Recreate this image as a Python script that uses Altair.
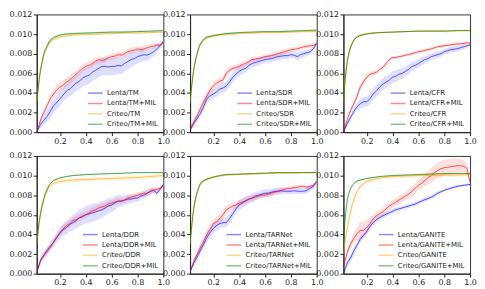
import altair as alt
import pandas as pd

# x sampling grids
X_LENTA = [0.02, 0.05, 0.075, 0.1, 0.125, 0.15, 0.175, 0.2, 0.225, 0.25, 0.275, 0.3, 0.325, 0.35,
           0.375, 0.4, 0.425, 0.45, 0.475, 0.5, 0.525, 0.55, 0.575, 0.6, 0.625, 0.65, 0.675, 0.7,
           0.725, 0.75, 0.775, 0.8, 0.825, 0.85, 0.875, 0.9, 0.925, 0.95, 0.975, 1.0]
X_CRITEO = [0.02, 0.03, 0.04, 0.05, 0.06, 0.07, 0.08, 0.09, 0.1, 0.12, 0.15, 0.2, 0.25, 0.3,
            0.4, 0.5, 0.6, 0.7, 0.8, 0.9, 1.0]

# values in units of 1e-3
# ---------------- TM ----------------
TM_LENTA = [0.0, 0.8, 1.2, 1.6, 2.1, 2.7, 3.0, 3.4, 3.8, 4.2, 4.4, 4.7, 5.0, 5.2, 5.5, 5.7, 5.8, 6.1, 6.3, 6.5,
            6.7, 6.7, 6.65, 6.7, 6.7, 6.8, 6.75, 7.0, 7.2, 7.4, 7.5, 7.7, 7.8, 7.9, 7.85, 8.0, 8.2, 8.5, 8.8, 9.2]
TM_LENTA_BAND = [0.1, 0.4, 0.5, 0.6, 0.7, 0.7, 0.7, 0.7, 0.7, 0.75, 0.8, 0.8, 0.8, 0.85, 0.85, 0.9, 0.9, 0.9, 0.9, 0.9,
                 0.9, 0.9, 0.9, 0.9, 0.9, 0.85, 0.85, 0.8, 0.8, 0.75, 0.7, 0.7, 0.65, 0.6, 0.6, 0.5, 0.45, 0.4, 0.3, 0.2]
TM_LENTA_MIL = [0.0, 1.25, 2.0, 2.7, 3.4, 3.9, 4.3, 4.6, 4.8, 5.1, 5.3, 5.6, 5.9, 6.2, 6.5, 6.7, 6.8, 7.0, 7.25, 7.4,
                7.3, 7.4, 7.6, 7.7, 7.75, 7.9, 7.85, 8.0, 8.2, 8.3, 8.35, 8.5, 8.4, 8.5, 8.6, 8.7, 8.75, 8.9, 8.85, 9.2]
TM_LENTA_MIL_BAND = [0.1, 0.2, 0.3, 0.35, 0.4, 0.4, 0.45, 0.45, 0.5, 0.5, 0.45, 0.45, 0.4, 0.4, 0.4, 0.4, 0.35, 0.35, 0.35, 0.35,
                     0.3, 0.3, 0.3, 0.3, 0.3, 0.3, 0.3, 0.3, 0.3, 0.3, 0.3, 0.3, 0.3, 0.3, 0.25, 0.25, 0.25, 0.2, 0.2, 0.15]
TM_CRITEO = [3.0, 4.2, 5.3, 6.2, 6.9, 7.5, 8.0, 8.3, 8.6, 9.1, 9.45, 9.7, 9.8, 9.9, 9.95, 10.0, 10.05, 10.1, 10.1, 10.15, 10.2]
TM_CRITEO_BAND = [0.1, 0.2, 0.25, 0.25, 0.25, 0.2, 0.2, 0.2, 0.2, 0.15, 0.15, 0.12, 0.1, 0.1, 0.08, 0.08, 0.08, 0.08, 0.08, 0.08, 0.08]
TM_CRITEO_MIL = [3.0, 4.3, 5.5, 6.4, 7.1, 7.7, 8.2, 8.5, 8.8, 9.3, 9.65, 9.9, 10.0, 10.05, 10.1, 10.15, 10.2, 10.2, 10.25, 10.3, 10.35]
TM_CRITEO_MIL_BAND = [0.1, 0.2, 0.25, 0.25, 0.25, 0.2, 0.2, 0.2, 0.2, 0.18, 0.15, 0.15, 0.12, 0.1, 0.1, 0.1, 0.1, 0.1, 0.1, 0.1, 0.1]

# ---------------- SDR ----------------
SDR_LENTA = [0.2, 0.9, 1.4, 1.9, 2.6, 3.4, 3.7, 3.9, 4.1, 4.4, 4.5, 4.7, 5.1, 5.6, 5.9, 6.2, 6.4, 6.5, 6.8, 7.0,
             7.1, 7.2, 7.3, 7.4, 7.45, 7.5, 7.6, 7.7, 7.75, 7.8, 7.8, 7.9, 7.85, 7.7, 7.9, 8.0, 8.1, 8.2, 8.5, 9.1]
SDR_LENTA_BAND = [0.1, 0.3, 0.4, 0.4, 0.45, 0.45, 0.5, 0.5, 0.5, 0.5, 0.5, 0.5, 0.5, 0.5, 0.45, 0.45, 0.45, 0.4, 0.4, 0.4,
                  0.4, 0.4, 0.35, 0.35, 0.35, 0.35, 0.35, 0.35, 0.35, 0.35, 0.35, 0.35, 0.35, 0.4, 0.4, 0.35, 0.3, 0.3, 0.25, 0.2]
SDR_LENTA_MIL = [0.3, 1.1, 1.7, 2.4, 3.1, 3.7, 4.3, 4.7, 5.0, 5.2, 5.3, 6.0, 6.3, 6.5, 6.6, 6.7, 6.9, 7.0, 7.2, 7.4,
                 7.45, 7.5, 7.6, 7.7, 7.75, 7.8, 7.9, 8.0, 8.1, 8.2, 8.3, 8.4, 8.45, 8.5, 8.6, 8.7, 8.75, 8.8, 8.85, 9.0]
SDR_LENTA_MIL_BAND = [0.2, 0.3, 0.3, 0.35, 0.4, 0.4, 0.4, 0.4, 0.4, 0.35, 0.35, 0.35, 0.3, 0.3, 0.3, 0.3, 0.3, 0.25, 0.25, 0.25,
                      0.25, 0.25, 0.25, 0.25, 0.25, 0.25, 0.25, 0.25, 0.25, 0.25, 0.25, 0.25, 0.2, 0.2, 0.2, 0.2, 0.2, 0.2, 0.2, 0.15]
SDR_CRITEO = [3.0, 4.3, 5.5, 6.4, 7.1, 7.7, 8.2, 8.6, 8.9, 9.3, 9.6, 9.8, 9.9, 9.95, 10.05, 10.1, 10.15, 10.15, 10.2, 10.25, 10.25]
SDR_CRITEO_BAND = [0.1, 0.2, 0.25, 0.25, 0.25, 0.2, 0.2, 0.2, 0.2, 0.15, 0.15, 0.12, 0.1, 0.1, 0.08, 0.08, 0.08, 0.08, 0.08, 0.08, 0.08]
SDR_CRITEO_MIL = [3.0, 4.4, 5.6, 6.5, 7.2, 7.8, 8.3, 8.7, 9.0, 9.4, 9.7, 9.85, 9.95, 10.05, 10.15, 10.2, 10.25, 10.25, 10.3, 10.35, 10.4]
SDR_CRITEO_MIL_BAND = [0.1, 0.2, 0.25, 0.25, 0.25, 0.2, 0.2, 0.2, 0.2, 0.15, 0.12, 0.1, 0.1, 0.1, 0.08, 0.08, 0.08, 0.08, 0.08, 0.08, 0.08]

# ---------------- CFR ----------------
CFR_LENTA = [0.0, 0.9, 1.5, 2.1, 2.6, 2.9, 3.1, 3.1, 3.4, 3.9, 4.2, 4.6, 4.9, 5.1, 5.3, 5.6, 5.7, 5.9, 6.0, 6.2,
             6.4, 6.7, 6.8, 7.0, 7.2, 7.4, 7.5, 7.7, 7.8, 7.9, 8.0, 8.2, 8.3, 8.4, 8.45, 8.5, 8.6, 8.7, 8.8, 8.9]
CFR_LENTA_BAND = [0.1, 0.3, 0.3, 0.35, 0.4, 0.5, 0.5, 0.5, 0.55, 0.6, 0.6, 0.6, 0.6, 0.6, 0.6, 0.6, 0.6, 0.55, 0.55, 0.5,
                  0.5, 0.5, 0.45, 0.45, 0.4, 0.4, 0.4, 0.35, 0.35, 0.35, 0.3, 0.3, 0.3, 0.3, 0.3, 0.25, 0.25, 0.25, 0.2, 0.2]
CFR_LENTA_MIL = [0.0, 1.3, 2.2, 2.9, 3.6, 4.6, 5.1, 5.6, 5.9, 6.0, 6.1, 6.4, 6.6, 7.0, 7.4, 7.6, 7.6, 7.7, 7.75, 7.85,
                 7.9, 8.0, 8.1, 8.2, 8.25, 8.35, 8.4, 8.5, 8.6, 8.7, 8.75, 8.8, 8.85, 8.9, 8.95, 9.0, 9.0, 9.05, 9.1, 9.1]
CFR_LENTA_MIL_BAND = [0.1, 0.2, 0.25, 0.3, 0.3, 0.3, 0.3, 0.25, 0.25, 0.2, 0.2, 0.2, 0.2, 0.2, 0.2, 0.15, 0.15, 0.15, 0.15, 0.15,
                      0.15, 0.15, 0.15, 0.15, 0.15, 0.15, 0.15, 0.15, 0.15, 0.15, 0.15, 0.15, 0.15, 0.15, 0.15, 0.15, 0.15, 0.15, 0.1, 0.1]
CFR_CRITEO = [3.0, 4.9, 6.3, 7.3, 8.0, 8.5, 8.85, 9.15, 9.4, 9.7, 9.9, 10.05, 10.1, 10.15, 10.2, 10.25, 10.3, 10.3, 10.3, 10.35, 10.35]
CFR_CRITEO_BAND = [0.1, 0.2, 0.25, 0.25, 0.25, 0.2, 0.2, 0.2, 0.15, 0.12, 0.1, 0.1, 0.08, 0.08, 0.06, 0.06, 0.06, 0.06, 0.06, 0.06, 0.06]
CFR_CRITEO_MIL = [3.0, 4.8, 6.2, 7.2, 7.9, 8.4, 8.8, 9.1, 9.35, 9.65, 9.85, 10.0, 10.1, 10.15, 10.2, 10.25, 10.3, 10.3, 10.3, 10.35, 10.35]
CFR_CRITEO_MIL_BAND = [0.1, 0.25, 0.3, 0.3, 0.3, 0.3, 0.25, 0.25, 0.2, 0.15, 0.12, 0.1, 0.08, 0.08, 0.06, 0.06, 0.06, 0.06, 0.06, 0.06, 0.06]

# ---------------- DDR ----------------
DDR_LENTA = [0.0, 1.4, 1.9, 2.4, 2.8, 3.2, 3.7, 4.1, 4.5, 4.7, 5.0, 5.2, 5.4, 5.7, 5.8, 6.0, 6.1, 6.2, 6.3, 6.4,
             6.5, 6.7, 6.9, 7.0, 7.2, 7.4, 7.4, 7.5, 7.6, 7.6, 7.7, 7.7, 7.9, 8.0, 8.2, 8.4, 8.5, 8.2, 8.6, 9.1]
DDR_LENTA_BAND = [0.1, 0.3, 0.3, 0.35, 0.4, 0.5, 0.5, 0.6, 0.6, 0.7, 0.7, 0.8, 0.8, 0.85, 0.85, 0.9, 0.9, 0.9, 0.9, 0.85,
                  0.85, 0.8, 0.8, 0.7, 0.7, 0.6, 0.6, 0.5, 0.5, 0.45, 0.4, 0.4, 0.35, 0.35, 0.3, 0.3, 0.3, 0.3, 0.25, 0.2]
DDR_LENTA_MIL = [0.2, 1.3, 1.8, 2.2, 2.7, 3.2, 3.7, 4.2, 4.6, 4.9, 5.1, 5.4, 5.5, 5.7, 5.9, 6.0, 6.2, 6.4, 6.5, 6.7,
                 6.8, 6.9, 7.1, 7.2, 7.3, 7.4, 7.4, 7.5, 7.7, 7.8, 7.9, 8.0, 8.1, 8.2, 8.2, 8.4, 8.5, 8.6, 8.7, 8.9]
DDR_LENTA_MIL_BAND = [0.1, 0.25, 0.3, 0.3, 0.3, 0.3, 0.3, 0.3, 0.35, 0.35, 0.35, 0.35, 0.35, 0.35, 0.35, 0.35, 0.35, 0.35, 0.35, 0.35,
                      0.35, 0.35, 0.3, 0.3, 0.3, 0.3, 0.3, 0.3, 0.3, 0.3, 0.3, 0.3, 0.3, 0.3, 0.3, 0.3, 0.25, 0.25, 0.2, 0.2]
DDR_CRITEO = [3.0, 4.2, 5.2, 6.0, 6.7, 7.2, 7.7, 8.1, 8.4, 8.9, 9.2, 9.4, 9.5, 9.55, 9.6, 9.65, 9.7, 9.75, 9.8, 9.9, 10.0]
DDR_CRITEO_BAND = [0.2, 0.3, 0.3, 0.3, 0.3, 0.3, 0.25, 0.25, 0.25, 0.2, 0.2, 0.2, 0.2, 0.2, 0.2, 0.2, 0.2, 0.2, 0.2, 0.2, 0.2]
DDR_CRITEO_MIL = [3.0, 4.3, 5.4, 6.2, 6.9, 7.4, 7.9, 8.3, 8.6, 9.1, 9.5, 9.75, 9.9, 10.0, 10.1, 10.15, 10.2, 10.25, 10.3, 10.3, 10.3]
DDR_CRITEO_MIL_BAND = [0.1, 0.2, 0.2, 0.2, 0.2, 0.15, 0.15, 0.15, 0.12, 0.1, 0.1, 0.08, 0.08, 0.06, 0.06, 0.06, 0.06, 0.06, 0.06, 0.06, 0.06]

# ---------------- TARNet ----------------
TAR_LENTA = [0.2, 1.1, 1.7, 2.4, 3.0, 3.7, 4.2, 4.6, 4.9, 5.1, 5.2, 5.2, 5.6, 6.1, 6.6, 7.0, 7.2, 7.4, 7.6, 7.7,
             7.9, 8.0, 8.1, 8.2, 8.2, 8.3, 8.4, 8.4, 8.45, 8.4, 8.4, 8.4, 8.45, 8.4, 8.4, 8.4, 8.5, 8.7, 8.9, 9.4]
TAR_LENTA_BAND = [0.1, 0.3, 0.35, 0.4, 0.45, 0.5, 0.5, 0.5, 0.5, 0.5, 0.5, 0.5, 0.5, 0.5, 0.5, 0.5, 0.5, 0.5, 0.45, 0.45,
                  0.45, 0.4, 0.4, 0.4, 0.4, 0.35, 0.35, 0.35, 0.35, 0.3, 0.3, 0.3, 0.3, 0.3, 0.3, 0.3, 0.3, 0.3, 0.25, 0.2]
TAR_LENTA_MIL = [0.2, 1.3, 2.0, 2.7, 3.3, 4.0, 4.5, 5.1, 5.3, 5.6, 6.0, 6.5, 6.7, 6.9, 7.0, 7.2, 7.3, 7.45, 7.6, 7.7,
                 7.8, 7.9, 8.0, 8.0, 8.1, 8.2, 8.3, 8.4, 8.5, 8.6, 8.7, 8.7, 8.8, 8.8, 8.9, 8.9, 8.8, 8.9, 9.0, 9.4]
TAR_LENTA_MIL_BAND = [0.1, 0.3, 0.4, 0.5, 0.5, 0.5, 0.5, 0.5, 0.5, 0.45, 0.45, 0.4, 0.4, 0.35, 0.35, 0.3, 0.3, 0.3, 0.3, 0.3,
                      0.3, 0.25, 0.25, 0.25, 0.25, 0.25, 0.25, 0.25, 0.25, 0.2, 0.2, 0.2, 0.2, 0.2, 0.2, 0.2, 0.2, 0.2, 0.2, 0.2]
TAR_CRITEO = [3.0, 4.4, 5.7, 6.7, 7.4, 8.0, 8.4, 8.8, 9.1, 9.35, 9.6, 9.8, 9.95, 10.05, 10.1, 10.15, 10.2, 10.25, 10.25, 10.3, 10.3]
TAR_CRITEO_BAND = [0.15, 0.25, 0.25, 0.25, 0.25, 0.2, 0.2, 0.2, 0.18, 0.15, 0.15, 0.15, 0.12, 0.12, 0.1, 0.1, 0.1, 0.1, 0.1, 0.1, 0.1]
TAR_CRITEO_MIL = [3.0, 4.5, 5.8, 6.8, 7.5, 8.1, 8.5, 8.9, 9.2, 9.45, 9.65, 9.85, 10.0, 10.1, 10.15, 10.2, 10.25, 10.3, 10.3, 10.3, 10.3]
TAR_CRITEO_MIL_BAND = [0.1, 0.2, 0.2, 0.2, 0.2, 0.15, 0.15, 0.15, 0.12, 0.1, 0.1, 0.08, 0.08, 0.06, 0.06, 0.06, 0.06, 0.06, 0.06, 0.06, 0.06]

# ---------------- GANITE ----------------
GAN_LENTA = [0.0, 1.1, 1.6, 2.3, 2.9, 3.5, 3.9, 4.3, 4.8, 5.2, 5.5, 5.7, 5.9, 6.05, 6.2, 6.35, 6.5, 6.6, 6.7, 6.8,
             6.9, 7.0, 7.1, 7.25, 7.4, 7.55, 7.65, 7.8, 8.0, 8.2, 8.35, 8.5, 8.6, 8.7, 8.8, 8.9, 8.95, 9.0, 9.05, 9.1]
GAN_LENTA_BAND = [0.1, 0.4, 0.4, 0.4, 0.35, 0.35, 0.3, 0.3, 0.3, 0.3, 0.3, 0.25, 0.25, 0.25, 0.25, 0.25, 0.25, 0.2, 0.2, 0.2,
                  0.2, 0.2, 0.2, 0.2, 0.2, 0.2, 0.2, 0.2, 0.2, 0.2, 0.15, 0.15, 0.15, 0.15, 0.15, 0.15, 0.15, 0.15, 0.15, 0.15]
GAN_LENTA_MIL = [0.7, 2.2, 3.0, 3.6, 4.1, 4.4, 4.4, 4.7, 5.1, 5.6, 5.9, 6.1, 6.3, 6.6, 6.9, 7.1, 7.3, 7.5, 7.7, 7.9,
                 8.1, 8.4, 8.7, 9.0, 9.2, 9.5, 9.8, 10.0, 10.3, 10.5, 10.7, 10.8, 10.85, 10.9, 10.95, 11.0, 11.0, 10.95, 10.75, 9.3]
GAN_LENTA_MIL_BAND = [0.2, 0.3, 0.4, 0.5, 0.7, 0.9, 0.9, 0.8, 0.5, 0.4, 0.4, 0.4, 0.4, 0.4, 0.4, 0.4, 0.4, 0.4, 0.4, 0.45,
                      0.5, 0.5, 0.5, 0.5, 0.6, 0.6, 0.7, 0.8, 0.8, 0.8, 0.8, 0.8, 0.8, 0.8, 0.8, 0.8, 0.7, 0.6, 0.5, 0.3]
GAN_CRITEO = [2.0, 3.0, 3.9, 4.7, 5.4, 6.0, 6.6, 7.1, 7.5, 8.2, 8.9, 9.4, 9.6, 9.75, 9.9, 9.95, 10.0, 10.0, 10.05, 10.05, 10.1]
GAN_CRITEO_BAND = [0.2, 0.3, 0.3, 0.3, 0.3, 0.3, 0.3, 0.3, 0.25, 0.25, 0.2, 0.2, 0.2, 0.2, 0.2, 0.2, 0.2, 0.2, 0.2, 0.2, 0.2]
GAN_CRITEO_MIL = [3.0, 5.0, 6.5, 7.5, 8.1, 8.5, 8.8, 9.0, 9.2, 9.4, 9.55, 9.7, 9.8, 9.9, 10.0, 10.05, 10.1, 10.15, 10.2, 10.2, 10.2]
GAN_CRITEO_MIL_BAND = [0.1, 0.2, 0.2, 0.2, 0.2, 0.15, 0.15, 0.15, 0.12, 0.1, 0.1, 0.08, 0.08, 0.06, 0.06, 0.06, 0.06, 0.06, 0.06, 0.06, 0.06]

MODELS = ["TM", "SDR", "CFR", "DDR", "TARNet", "GANITE"]
SERIES_DATA = [
    (TM_LENTA, TM_LENTA_BAND, TM_LENTA_MIL, TM_LENTA_MIL_BAND, TM_CRITEO, TM_CRITEO_BAND, TM_CRITEO_MIL, TM_CRITEO_MIL_BAND),
    (SDR_LENTA, SDR_LENTA_BAND, SDR_LENTA_MIL, SDR_LENTA_MIL_BAND, SDR_CRITEO, SDR_CRITEO_BAND, SDR_CRITEO_MIL, SDR_CRITEO_MIL_BAND),
    (CFR_LENTA, CFR_LENTA_BAND, CFR_LENTA_MIL, CFR_LENTA_MIL_BAND, CFR_CRITEO, CFR_CRITEO_BAND, CFR_CRITEO_MIL, CFR_CRITEO_MIL_BAND),
    (DDR_LENTA, DDR_LENTA_BAND, DDR_LENTA_MIL, DDR_LENTA_MIL_BAND, DDR_CRITEO, DDR_CRITEO_BAND, DDR_CRITEO_MIL, DDR_CRITEO_MIL_BAND),
    (TAR_LENTA, TAR_LENTA_BAND, TAR_LENTA_MIL, TAR_LENTA_MIL_BAND, TAR_CRITEO, TAR_CRITEO_BAND, TAR_CRITEO_MIL, TAR_CRITEO_MIL_BAND),
    (GAN_LENTA, GAN_LENTA_BAND, GAN_LENTA_MIL, GAN_LENTA_MIL_BAND, GAN_CRITEO, GAN_CRITEO_BAND, GAN_CRITEO_MIL, GAN_CRITEO_MIL_BAND),
]

LINE_COLORS = ["#0000ff", "#ff0000", "#ffa500", "#008000"]
Y_TICKS = [0.0, 0.002, 0.004, 0.006, 0.008, 0.010, 0.012]
X_TICKS = [0.2, 0.4, 0.6, 0.8, 1.0]

W, H = 128, 119


def make_panel(name, data):
    lv, lb, lmv, lmb, cv, cb, cmv, cmb = data
    labels = [f"Lenta/{name}", f"Lenta/{name}+MIL", f"Criteo/{name}", f"Criteo/{name}+MIL"]
    rows = []
    for lab, xs, vals, band in zip(labels, [X_LENTA, X_LENTA, X_CRITEO, X_CRITEO],
                                   [lv, lmv, cv, cmv], [lb, lmb, cb, cmb]):
        assert len(xs) == len(vals) == len(band), (lab, len(vals), len(band))
        for x, v, b in zip(xs, vals, band):
            rows.append({"x": x, "y": v / 1000, "lo": max(v - b, 0) / 1000,
                         "hi": (v + b) / 1000, "series": lab})
    df = pd.DataFrame(rows)

    xenc = alt.X("x:Q", scale=alt.Scale(domain=[0.02, 1.0], nice=False, zero=False),
                 axis=alt.Axis(values=X_TICKS, format=".1f", title=None))
    yscale = alt.Scale(domain=[0, 0.012], nice=False)
    yaxis = alt.Axis(values=Y_TICKS, format=".3f", title=None)
    cscale = alt.Scale(domain=labels, range=LINE_COLORS)
    leg = alt.Legend(title=None, orient="bottom-right", offset=5, padding=0,
                     labelFontSize=7, labelColor="#222",
                     symbolType="M-1,0H3", symbolSize=56, symbolStrokeWidth=1.5,
                     symbolOpacity=0.45, labelOffset=11, rowPadding=2.5, labelLimit=200)

    base = alt.Chart(df)
    bands = base.mark_area(opacity=0.13, clip=True).encode(
        x=xenc,
        y=alt.Y("lo:Q", scale=yscale, axis=yaxis),
        y2="hi:Q",
        color=alt.Color("series:N", scale=cscale, legend=leg),
    )
    lines = base.mark_line(strokeWidth=1, opacity=0.65, clip=True).encode(
        x=xenc,
        y=alt.Y("y:Q", scale=yscale, axis=yaxis),
        color=alt.Color("series:N", scale=cscale, legend=leg),
    )
    return alt.layer(bands, lines).properties(width=W, height=H)


panels = [make_panel(n, d) for n, d in zip(MODELS, SERIES_DATA)]
chart = alt.concat(*panels, columns=3, spacing={"row": 24, "column": 27}, bounds="flush").resolve_scale(
    color="independent"
).resolve_legend(
    color="independent"
).properties(
    padding=0
).configure(
    font="DejaVu Sans"
).configure_axis(
    labelFontSize=8, labelColor="#222", tickColor="#222", domainColor="#222", tickSize=3.5,
    grid=False, labelPadding=1.5, labelFlush=False, labelOverlap=False, domainWidth=1, tickWidth=1
).configure_view(stroke="#333", strokeWidth=1)

chart.save("out.html", embed_options={"renderer": "svg", "actions": False})
